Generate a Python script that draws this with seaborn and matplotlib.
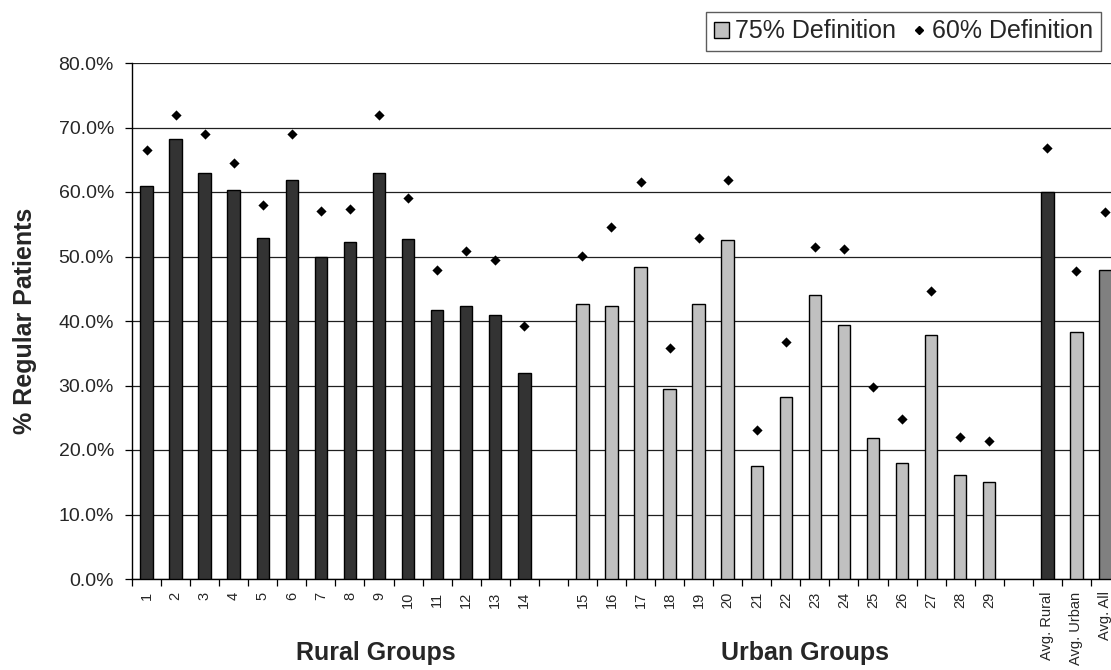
import matplotlib
matplotlib.use("Agg")
import matplotlib.pyplot as plt
from matplotlib.lines import Line2D
from matplotlib.patches import Patch
from matplotlib.ticker import FuncFormatter, MultipleLocator
import numpy as np
import pandas as pd
import seaborn as sns

# --- data ---
rural_labels = [str(i) for i in range(1, 15)]
urban_labels = [str(i) for i in range(15, 30)]
avg_labels = ["Avg. Rural", "Avg. Urban", "Avg. All"]

rural_75 = [61.0, 68.2, 63.0, 60.3, 52.8, 61.9, 50.0, 52.2, 63.0, 52.7, 41.7, 42.3, 40.9, 32.0]
rural_60 = [66.5, 71.9, 69.0, 64.5, 58.0, 69.0, 57.0, 57.4, 72.0, 59.1, 47.9, 50.9, 49.5, 39.2]
urban_75 = [42.7, 42.3, 48.3, 29.4, 42.7, 52.5, 17.5, 28.2, 44.1, 39.4, 21.9, 18.0, 37.8, 16.2, 15.0]
urban_60 = [50.1, 54.6, 61.6, 35.8, 52.8, 61.9, 23.1, 36.7, 51.5, 51.1, 29.7, 24.8, 44.7, 22.0, 21.4]
avg_75 = [60.0, 38.3, 47.9]
avg_60 = [66.8, 47.8, 56.9]

colors = {"rural": "#333333", "urban": "#C0C0C0", "all": "#808080"}

# slots: rural, one empty slot, urban, one empty slot, averages
pos = list(range(0, 14)) + list(range(15, 30)) + list(range(31, 34))
df = pd.DataFrame({
    "pos": pos,
    "label": rural_labels + urban_labels + avg_labels,
    "def75": rural_75 + urban_75 + avg_75,
    "def60": rural_60 + urban_60 + avg_60,
    "group": ["rural"] * 14 + ["urban"] * 15 + ["rural", "urban", "all"],
})

sns.set_style("white")
plt.rcParams["font.family"] = ["Liberation Sans", "DejaVu Sans"]

fig = plt.figure(figsize=(11.11, 6.70), dpi=100)
ax = fig.add_axes([132 / 1111, 1 - 579 / 670, (1120 - 132) / 1111, (579 - 63) / 670])

sns.barplot(data=df, x="pos", y="def75", hue="group", palette=colors,
            native_scale=True, dodge=False, width=0.43, edgecolor="black",
            linewidth=1.0, saturation=1, legend=False, ax=ax, zorder=3)
sns.scatterplot(data=df, x="pos", y="def60", marker="D", s=27, color="black",
                edgecolor="black", linewidth=0, legend=False, ax=ax, zorder=4)

ax.set_xlim(-0.5, 33.5)
ax.set_ylim(0, 80)
ax.yaxis.set_major_locator(MultipleLocator(10))
ax.yaxis.set_major_formatter(FuncFormatter(lambda v, _: f"{v:.1f}%"))
ax.grid(axis="y", color="#202020", linewidth=0.9, zorder=0)
ax.set_axisbelow(True)
ax.tick_params(axis="y", direction="out", length=5, width=0.9, color="black",
               labelsize=14, left=True, pad=8)

ax.set_xticks(df["pos"])
ax.set_xticklabels(df["label"], rotation=90, fontsize=10.5)
ax.tick_params(axis="x", which="major", length=0, pad=9)
ax.set_xticks(np.arange(-0.5, 34, 1), minor=True)
ax.tick_params(axis="x", which="minor", direction="out", length=5, width=0.9,
               color="black", bottom=True)

for side in ["top", "right"]:
    ax.spines[side].set_visible(False)
for side in ["left", "bottom"]:
    ax.spines[side].set_color("black")
    ax.spines[side].set_linewidth(1.0)
ax.set_xlabel("")
ax.set_ylabel("")

fig.text(25 / 1111, 1 - 321 / 670, "% Regular Patients", rotation=90, ha="center",
         va="center", fontsize=18, fontweight="bold")
fig.text(376 / 1111, 1 - 653 / 670, "Rural Groups", ha="center", va="center",
         fontsize=18, fontweight="bold")
fig.text(805 / 1111, 1 - 653 / 670, "Urban Groups", ha="center", va="center",
         fontsize=18, fontweight="bold")

handles = [
    Patch(facecolor=colors["urban"], edgecolor="black", linewidth=1.0),
    Line2D([], [], marker="D", linestyle="none", color="black", markersize=4.2),
]
leg = fig.legend(handles, ["75% Definition", "60% Definition"], ncol=2,
                 loc="upper right", bbox_to_anchor=(1101 / 1111, 1 - 12 / 670),
                 frameon=True, fancybox=False, edgecolor="#333333", fontsize=18,
                 handlelength=0.6, handleheight=0.6, handletextpad=0.25,
                 columnspacing=0.6, borderpad=0.3, borderaxespad=0)
leg.get_frame().set_linewidth(1.0)

fig.savefig("out.png", dpi=100)
